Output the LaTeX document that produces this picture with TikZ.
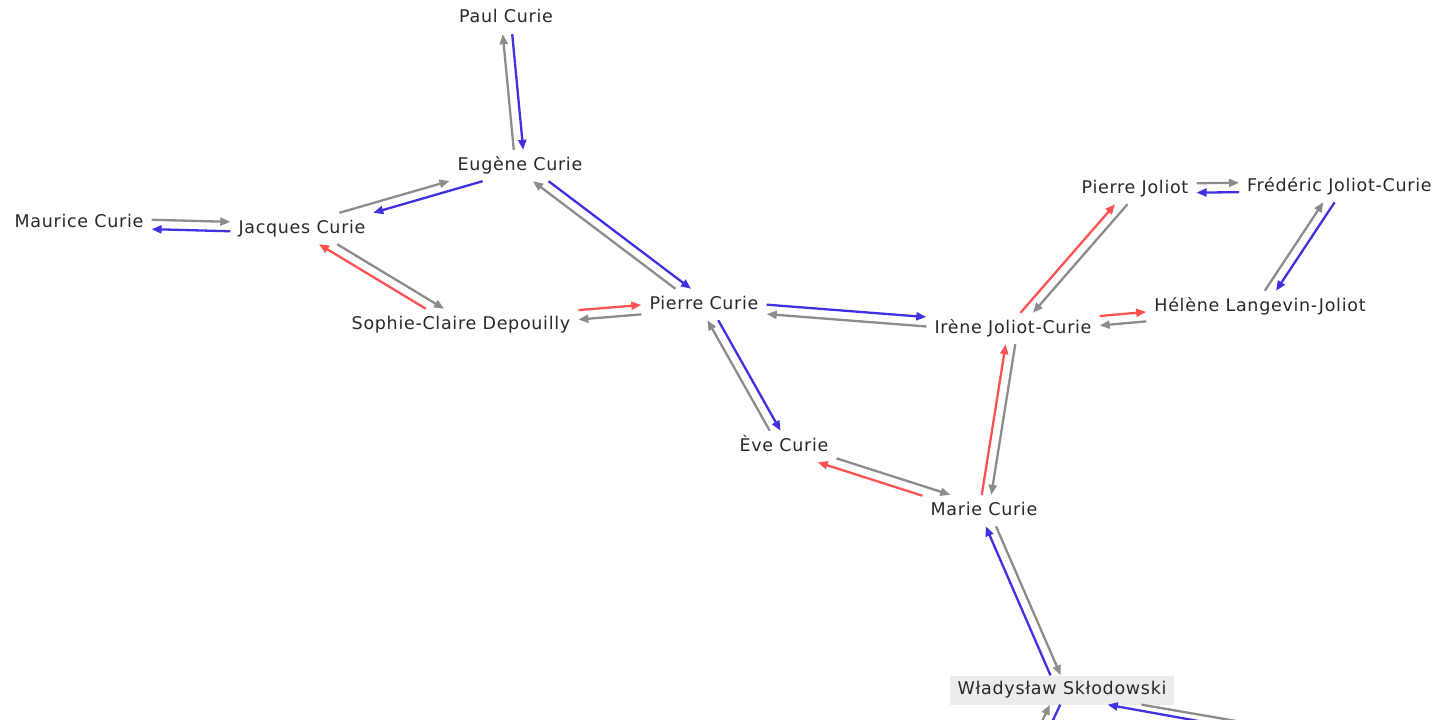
\documentclass[tikz,border=0pt]{standalone}
\usepackage{fontspec}
\setmainfont[LetterSpace=4]{DejaVu Sans}
\usetikzlibrary{calc,arrows.meta,intersections}
\definecolor{eblue}{RGB}{64,48,226}
\definecolor{egray}{RGB}{140,140,140}
\definecolor{ered}{RGB}{255,82,82}
\definecolor{txt}{RGB}{40,40,40}
\definecolor{hl}{RGB}{236,236,236}
% two opposite parallel connectors between two named nodes,
% each cut where it meets the node boxes
\newcommand\duo[4]{%
 \coordinate (a1) at ($(#1)!4.7pt!90:(#2)$);
 \coordinate (b1) at ($(#2)!4.7pt!-90:(#1)$);
 \coordinate (a2) at ($(#1)!4.7pt!-90:(#2)$);
 \coordinate (b2) at ($(#2)!4.7pt!90:(#1)$);
 \path[name path=LA] (a1) -- (b1);
 \path[name path=LB] (a2) -- (b2);
 \path[name path=BA] (#1.south west) rectangle (#1.north east);
 \path[name path=BB] (#2.south west) rectangle (#2.north east);
 \path[name intersections={of=LA and BA,by=p1}];
 \path[name intersections={of=LA and BB,by=q1}];
 \path[name intersections={of=LB and BA,by=p2}];
 \path[name intersections={of=LB and BB,by=q2}];
 \draw[edge,#3] (p1) -- (q1);
 \draw[edge,#4] (q2) -- (p2);
}
% one connector between a free end (named coordinate off the picture)
% and a node: #1 free end, #2 node, #3 aim point inside the node,
% #4 direction (o = node to free end, i = free end to node), #5 colour
\newcommand\solo[5]{%
 \path[name path=LS] (#1) -- (#3);
 \path[name path=BS] (#2.south west) rectangle (#2.north east);
 \path[name intersections={of=LS and BS,by=r1}];
 \ifx#4i\draw[edge,#5] (#1) -- (r1);\else\draw[edge,#5] (r1) -- (#1);\fi
}
\begin{document}
\begin{tikzpicture}[x=1pt,y=-1pt,
  person/.style={text=txt,font=\fontsize{17.5}{20}\selectfont,inner xsep=8pt,inner ysep=6pt,text height=14pt,text depth=5pt},
  edge/.style={line width=2.3pt,-{Triangle[length=10pt,width=8pt]}}]
\useasboundingbox (0,0) rectangle (1435,720);
\clip (0,0) rectangle (1435,720);
\node[person] (paul) at (506,18.5) {Paul Curie};
\node[person] (eug) at (520,165.5) {Eugène Curie};
\node[person] (mau) at (79,222.5) {Maurice Curie};
\node[person] (jac) at (302,228.5) {Jacques Curie};
\node[person] (sop) at (461,324.5) {Sophie-Claire Depouilly};
\node[person] (pie) at (704,304.5) {Pierre Curie};
\node[person] (ire) at (1013,328.5) {Irène Joliot-Curie};
\node[person] (pjo) at (1135,188.5) {Pierre Joliot};
\node[person,anchor=west] (fre) at (1239,186.5) {Frédéric Joliot-Curie};
\node[person] (hel) at (1260,306.5) {Hélène Langevin-Joliot};
\node[person] (eve) at (784,446.5) {Ève Curie};
\node[person] (mar) at (984,510.5) {Marie Curie};
\node[person,fill=hl,inner ysep=5pt] (wla) at (1062,690) {Władysław Skłodowski};
\coordinate (xb) at (1010,800);
\coordinate (xg) at (1300,732);
\coordinate (xu) at (1300,739.3);
\duo{eug}{paul}{egray}{eblue}
\duo{jac}{eug}{egray}{eblue}
\duo{mau}{jac}{egray}{eblue}
\duo{jac}{sop}{egray}{ered}
\duo{pie}{eug}{egray}{eblue}
\duo{sop}{pie}{ered}{egray}
\duo{pie}{ire}{eblue}{egray}
\duo{eve}{pie}{egray}{eblue}
\duo{eve}{mar}{egray}{ered}
\duo{mar}{ire}{ered}{egray}
\duo{ire}{pjo}{ered}{egray}
\duo{pjo}{fre}{egray}{eblue}
\duo{hel}{fre}{egray}{eblue}
\duo{ire}{hel}{ered}{egray}
\duo{wla}{mar}{eblue}{egray}
\solo{$(xb)!4.7pt!90:(wla)$}{wla}{$(wla)!4.7pt!-90:(xb)$}{i}{egray}
\solo{$(xb)!4.7pt!-90:(wla)$}{wla}{$(wla)!4.7pt!90:(xb)$}{o}{eblue}
\solo{xg}{wla}{$(wla.center)+(0,1)$}{o}{egray}
\solo{xu}{wla}{$(wla.center)+(0,6.5)$}{i}{eblue}
\end{tikzpicture}
\end{document}
